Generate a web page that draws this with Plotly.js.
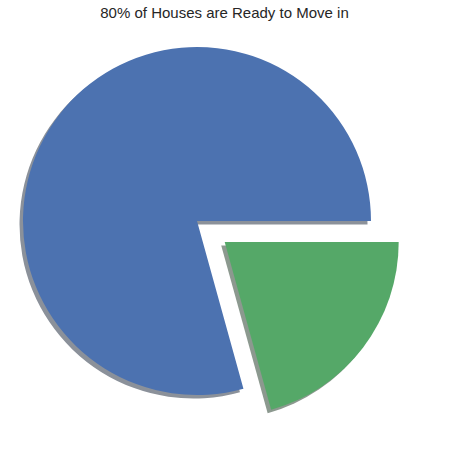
<!DOCTYPE html>
<html>
<head>
<meta charset="utf-8">
<script src="https://cdn.plot.ly/plotly-3.0.1.min.js"></script>
<style>html,body{margin:0;padding:0;background:#fff;}#chart{width:449px;height:466px;}</style>
</head>
<body>
<div id="chart"></div>
<script>
const labels = ['Ready to Move', 'Under Construction'];
const values = [79.3, 20.7];
const explode = [0, 0.2];
const colors = ['#4C72B0', '#55A868'];
const titleText = '80% of Houses are Ready to Move in';

const W = 449, H = 466;
const CX = 197, CY = 221, R = 174;
const SHADOW = 0.02;

function dom(cx, cy, r) {
  return {
    x: [(cx - r) / W, (cx + r) / W],
    y: [(H - cy - r) / H, (H - cy + r) / H]
  };
}
function shade(hex) {
  const n = parseInt(hex.slice(1), 16);
  const c = [(n >> 16) & 255, (n >> 8) & 255, n & 255];
  return 'rgb(' + c.map(v => Math.round(0.15 * v + 127.5)).join(',') + ')';
}

const total = values.reduce((a, b) => a + b, 0);
// first slice starts at 3 o'clock and runs counterclockwise (matplotlib style);
// Plotly lays slices clockwise from 'rotation' (degrees clockwise from 12 o'clock)
const rotation = 90 - (values[0] / total) * 360 + 360;
let acc = 0;
const traces = [];
values.forEach((v, i) => {
  const mid = (acc + v / 2) / total * 2 * Math.PI;
  acc += v;
  const dx = explode[i] * R * Math.cos(mid);
  const dy = -explode[i] * R * Math.sin(mid);
  const cx = CX + dx, cy = CY + dy;
  const mk = (col) => values.map((_, j) => j === i ? col : 'rgba(0,0,0,0)');
  const base = {
    type: 'pie', labels: labels, values: values, sort: false,
    direction: 'counterclockwise', rotation: rotation, textinfo: 'none',
    hoverinfo: 'none', showlegend: false
  };
  traces.push(Object.assign({}, base, {
    marker: {colors: mk(shade(colors[i])), line: {width: 0}},
    domain: dom(cx - SHADOW * R, cy + SHADOW * R, R)
  }));
  traces.push(Object.assign({}, base, {
    marker: {colors: mk(colors[i]), line: {width: 0}},
    domain: dom(cx, cy, R)
  }));
});

const layout = {
  width: W, height: H,
  margin: {l: 0, r: 0, t: 0, b: 0},
  paper_bgcolor: '#ffffff',
  title: {
    text: titleText,
    font: {family: 'Liberation Sans, Arial, sans-serif', size: 15, color: '#262626'},
    x: 0.5, xanchor: 'center', y: 1 - 13 / H, yanchor: 'middle', yref: 'container'
  }
};
Plotly.newPlot('chart', traces, layout, {staticPlot: true});
</script>
</body>
</html>
